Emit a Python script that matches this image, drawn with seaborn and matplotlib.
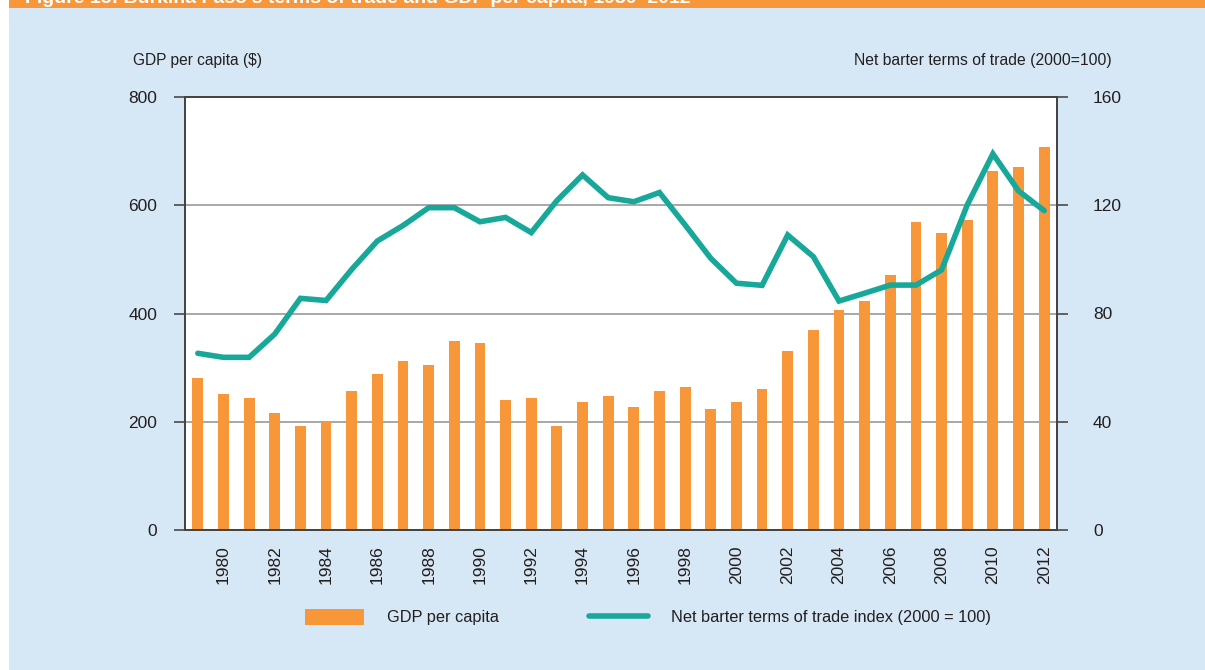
import numpy as np
import pandas as pd
import matplotlib
matplotlib.use("Agg")
import matplotlib.pyplot as plt
from matplotlib.patches import Rectangle
from matplotlib.lines import Line2D
from matplotlib.ticker import FixedLocator
import seaborn as sns

# data
years = list(range(1979, 2013))
gdp_per_capita = [280, 252, 244, 216, 192, 200, 256, 289, 313, 305, 350, 345,
                  240, 244, 192, 237, 248, 228, 256, 264, 224, 237, 260, 330,
                  370, 406, 423, 471, 569, 549, 573, 663, 671, 707]
terms_of_trade = [65.3, 63.8, 63.8, 72.4, 85.6, 84.8, 96.3, 106.8, 112.5, 119.1,
                  119.1, 113.9, 115.5, 109.9, 121.7, 131.2, 122.8, 121.3, 124.7, 112.7,
                  100.4, 91.2, 90.4, 109.0, 101.0, 84.6, 87.5, 90.5, 90.5, 96.1,
                  120.1, 139.0, 125.3, 118.0]
year_labels = [str(y) for y in range(1980, 2013, 2)]

df = pd.DataFrame({"year": years, "gdp": gdp_per_capita, "tot": terms_of_trade})

ORANGE = "#f7973a"
TEAL = "#17a89a"
PANEL = "#d6e7f5"
TEXT = "#231f20"

sns.set_style("white")
plt.rcParams['font.family'] = ['Liberation Sans', 'DejaVu Sans']
plt.rcParams['font.size'] = 11
plt.rcParams['text.color'] = TEXT
plt.rcParams['xtick.color'] = TEXT
plt.rcParams['ytick.color'] = TEXT

fig = plt.figure(figsize=(12.05, 6.7), dpi=100)
fig.patch.set_facecolor("white")
# light blue panel and orange title band
fig.patches.append(Rectangle((9 / 1205, 0), 1, 1, transform=fig.transFigure,
                             facecolor=PANEL, edgecolor="none", zorder=-10))
fig.patches.append(Rectangle((9 / 1205, 1 - 8 / 670), 1, 8 / 670, transform=fig.transFigure,
                             facecolor=ORANGE, edgecolor="none", zorder=-9))
fig.text(25 / 1205, 1 - 3 / 670, "Figure 15: Burkina Faso's terms of trade and GDP per capita, 1980\u20132012",
         color="white", fontsize=14, fontweight="bold", va="baseline", ha="left")

ax1 = fig.add_axes([185 / 1205, 1 - 530 / 670, (1057 - 185) / 1205, (530 - 97) / 670])
ax1.set_facecolor("white")

sns.barplot(data=df, x="year", y="gdp", native_scale=True, color=ORANGE,
            width=0.42, saturation=1, linewidth=0, ax=ax1, zorder=2)

ax1.set_xlim(1978.5, 2012.5)
ax1.set_ylim(0, 800)
ax1.set_yticks([0, 200, 400, 600, 800])
ax1.yaxis.grid(True, color="#9a9a9a", linewidth=1.2)
ax1.set_axisbelow(True)
ax1.set_xlabel("")
ax1.set_ylabel("")

ax1.xaxis.set_major_locator(FixedLocator(list(range(1980, 2013, 2))))
ax1.set_xticklabels(year_labels, rotation=90)
ax1.xaxis.set_minor_locator(FixedLocator(list(np.arange(1978.5, 2013, 2))))
ax1.tick_params(axis="x", which="major", length=0, pad=11, labelsize=12.5)
ax1.tick_params(axis="x", which="minor", length=7, width=1.3, color="#555555", direction="out")
ax1.tick_params(axis="y", length=8, width=1.3, color="#555555", direction="out",
                pad=12, labelsize=12.5)

for side in ["left", "bottom", "right", "top"]:
    ax1.spines[side].set_visible(True)
    ax1.spines[side].set_color("#444444")
    ax1.spines[side].set_linewidth(1.3)

ax2 = ax1.twinx()
sns.lineplot(data=df, x="year", y="tot", color=TEAL, linewidth=4, ax=ax2,
             solid_joinstyle="miter", solid_capstyle="round")
ax2.set_ylim(0, 160)
ax2.set_yticks([0, 40, 80, 120, 160])
ax2.set_xlim(1978.5, 2012.5)
ax2.set_ylabel("")
ax2.set_xlabel("")
ax2.tick_params(axis="y", length=8, width=1.3, color="#555555", direction="out",
                pad=18, labelsize=12.5)
for side in ["left", "bottom", "right", "top"]:
    ax2.spines[side].set_color("#444444")
    ax2.spines[side].set_linewidth(1.3)

fig.text(133 / 1205, 1 - 60 / 670, "GDP per capita ($)", ha="left", va="center", fontsize=11.2)
fig.text(1112 / 1205, 1 - 60 / 670, "Net barter terms of trade (2000=100)", ha="right", va="center",
         fontsize=11.3)

handles = [Rectangle((0, 0), 1, 1, facecolor=ORANGE, edgecolor="none"),
           Line2D([0], [0], color=TEAL, linewidth=4, solid_capstyle="round")]
fig.legend(handles, ["GDP per capita", "Net barter terms of trade index (2000 = 100)"],
           loc="center", bbox_to_anchor=(648 / 1205, 1 - 617 / 670), ncol=2, frameon=False,
           fontsize=11.8, handlelength=3.6, handleheight=1.1, handletextpad=1.4,
           columnspacing=5.5)

fig.savefig("out.png", dpi=100, facecolor=fig.get_facecolor())
